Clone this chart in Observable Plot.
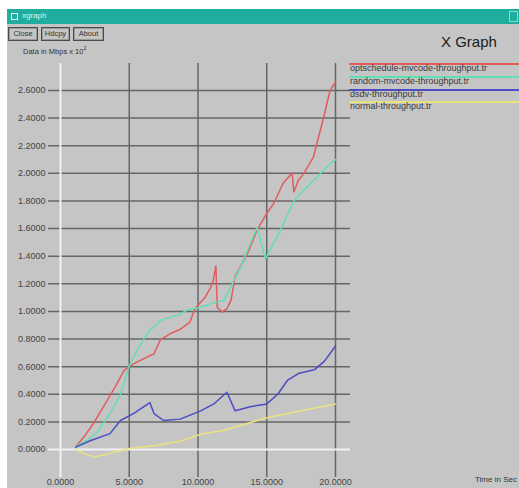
<!DOCTYPE html>
<html>
<head>
<meta charset="utf-8">
<script src="https://cdn.jsdelivr.net/npm/d3@7"></script>
<script src="https://cdn.jsdelivr.net/npm/@observablehq/plot@0.6"></script>
<style>
  html, body { margin: 0; padding: 0; background: #ffffff; }
  #win { position: relative; width: 519px; height: 488px; overflow: hidden;
         font-family: "Liberation Sans", Arial, sans-serif; }
  #panel { position: absolute; left: 7px; top: 9px; right: 0; bottom: 0; background: #c5c5c5; }
  #titlebar { position: absolute; left: 7px; top: 9px; width: 512px; height: 15px; background: #1fae9e; }
  #titlebar .icon { position: absolute; left: 4px; top: 4px; width: 5px; height: 5px;
                    border: 1px solid #e8f6f3; }
  #titlebar .name { position: absolute; left: 15px; top: 2px; font-size: 8px; color: #d8f3ee; }
  #titlebar .box { position: absolute; right: 1px; top: 2px; width: 7px; height: 9px;
                   border: 1px solid #8fd6cb; }
  .btn { position: absolute; top: 27px; height: 12px; border: 1px solid #4a4a4a;
         box-shadow: inset 0 0 0 1px #9a9a9a; font-size: 7.5px; line-height: 12px;
         text-align: center; color: #333; }
  #ylabel { position: absolute; left: 23px; top: 45px; font-size: 7.5px; color: #333; }
  #ylabel sup { font-size: 5.5px; }
  #heading { position: absolute; left: 441px; top: 33px; font-size: 15px; color: #1c1c1c; }
  #xlabel { position: absolute; left: 475px; top: 475px; font-size: 8px; color: #333; white-space: nowrap; }
  #chart { position: absolute; left: 0; top: 0; }
  .key { position: absolute; left: 349px; width: 170px; }
  .key .ln { position: absolute; left: 0; right: 0; top: 0; height: 1.5px; }
  .key .tx { position: absolute; left: 1px; top: 0px; font-size: 9px; color: #3a3a3a; white-space: nowrap; }
</style>
</head>
<body>
<div id="win">
  <div id="panel"></div>
  <div id="titlebar"><div class="icon"></div><div class="name">xgraph</div><div class="box"></div></div>
  <div class="btn" style="left:8px;width:28px;">Close</div>
  <div class="btn" style="left:41px;width:27px;">Hdcpy</div>
  <div class="btn" style="left:73px;width:29px;">About</div>
  <div id="ylabel">Data in Mbps x 10<sup>2</sup></div>
  <div id="heading">X Graph</div>
  <div id="xlabel">Time in Sec</div>
  <div id="chart"></div>
  <div id="legend"></div>
</div>
<script>
// Trace names and colours, in drawing order
const seriesNames = [
  "optschedule-mvcode-throughput.tr",
  "random-mvcode-throughput.tr",
  "dsdv-throughput.tr",
  "normal-throughput.tr"
];
const seriesColors = ["#e25c5c", "#62dfb2", "#4c4cc4", "#ebe37e"];

// Throughput samples: [time (s), data]
const optschedule = [
  [1.1, 0.02], [1.7, 0.09], [2.4, 0.19], [3.4, 0.355], [4.1, 0.476], [4.6, 0.57],
  [4.97, 0.6], [5.8, 0.645], [6.4, 0.675], [6.8, 0.693], [7.27, 0.795], [8.0, 0.84],
  [8.7, 0.87], [9.4, 0.92], [9.7, 1.0], [9.95, 1.04], [10.5, 1.1], [10.9, 1.17],
  [11.1, 1.22], [11.3, 1.33], [11.4, 1.03], [11.75, 0.995], [12.1, 1.02], [12.4, 1.08],
  [12.7, 1.25], [13.6, 1.42], [14.3, 1.59], [15.0, 1.71], [15.5, 1.78], [16.2, 1.93],
  [16.85, 2.0], [16.97, 1.865], [17.3, 1.95], [17.7, 2.0], [18.4, 2.12], [19.15, 2.41],
  [19.6, 2.6], [20.0, 2.66]
];
const random = [
  [1.1, 0.02], [1.9, 0.065], [2.67, 0.125], [3.6, 0.26], [4.36, 0.4], [4.97, 0.6],
  [5.58, 0.72], [6.3, 0.84], [7.27, 0.935], [8.7, 0.98], [9.2, 1.01], [10.2, 1.03],
  [11.1, 1.06], [11.9, 1.08], [13.1, 1.32], [14.3, 1.61], [14.9, 1.38], [16.0, 1.59],
  [16.97, 1.8], [17.7, 1.88], [19.6, 2.07], [20.0, 2.1]
];
const dsdv = [
  [1.1, 0.017], [2.2, 0.065], [3.6, 0.115], [4.36, 0.21], [5.3, 0.26], [6.5, 0.34],
  [6.8, 0.26], [7.5, 0.21], [8.7, 0.22], [10.2, 0.28], [11.15, 0.33], [12.1, 0.415],
  [12.7, 0.28], [13.8, 0.31], [15.0, 0.33], [15.8, 0.4], [16.5, 0.5], [17.3, 0.55],
  [18.5, 0.58], [19.2, 0.64], [20.0, 0.75]
];
const normal = [
  [1.1, 0.0], [1.7, -0.03], [2.5, -0.055], [3.5, -0.03], [4.9, 0.005], [7.0, 0.03],
  [8.7, 0.06], [10.2, 0.11], [11.9, 0.14], [15.0, 0.23], [17.5, 0.28], [20.0, 0.33]
];
const seriesValues = [optschedule, random, dsdv, normal];

// Axis ticks
const xTicks = [0, 5, 10, 15, 20];
const yTicks = [0, 0.2, 0.4, 0.6, 0.8, 1.0, 1.2, 1.4, 1.6, 1.8, 2.0, 2.2, 2.4, 2.6];

const rows = seriesValues.flatMap((pts, k) =>
  pts.map(([t, v]) => ({series: seriesNames[k], t, v})));

const fmt = d3.format(".4f");
const gridColor = "#666666";
const axisColor = "#f2f2f2";

const chart = Plot.plot({
  width: 519,
  height: 488,
  marginLeft: 60,
  marginRight: 184,
  marginTop: 90,
  marginBottom: 39,
  style: {background: "transparent", fontFamily: "'Liberation Sans', Arial, sans-serif", fontSize: "9px", color: "#444444"},
  x: {domain: [0, 20]},
  y: {domain: [0, 2.6]},
  color: {domain: seriesNames, range: seriesColors},
  marks: [
    Plot.ruleY(yTicks.filter(d => d !== 0), {stroke: gridColor, strokeWidth: 1.5, insetLeft: -12, insetRight: -15}),
    Plot.ruleX(xTicks.filter(d => d !== 0), {stroke: gridColor, strokeWidth: 1.5, insetTop: -27, insetBottom: -28}),
    Plot.ruleY([0], {stroke: axisColor, strokeWidth: 2, insetLeft: -12, insetRight: -15}),
    Plot.ruleX([0], {stroke: axisColor, strokeWidth: 2, insetTop: -27, insetBottom: -28}),
    Plot.axisY(yTicks, {tickSize: 0, tickPadding: 15, tickFormat: fmt, label: null}),
    Plot.axisX(xTicks, {tickSize: 0, tickPadding: 29, tickFormat: fmt, label: null}),
    Plot.line(rows, {x: "t", y: "v", z: "series", stroke: "series", strokeWidth: 1.5})
  ]
});
document.getElementById("chart").appendChild(chart);

// Key at the upper right: a coloured rule with the trace name under it
const keyTops = [63, 76, 89, 101];
const legend = document.getElementById("legend");
seriesNames.forEach((name, k) => {
  const row = document.createElement("div");
  row.className = "key";
  row.style.top = keyTops[k] + "px";
  row.innerHTML = `<div class="ln" style="background:${seriesColors[k]}"></div><div class="tx">${name}</div>`;
  legend.appendChild(row);
});
</script>
</body>
</html>
